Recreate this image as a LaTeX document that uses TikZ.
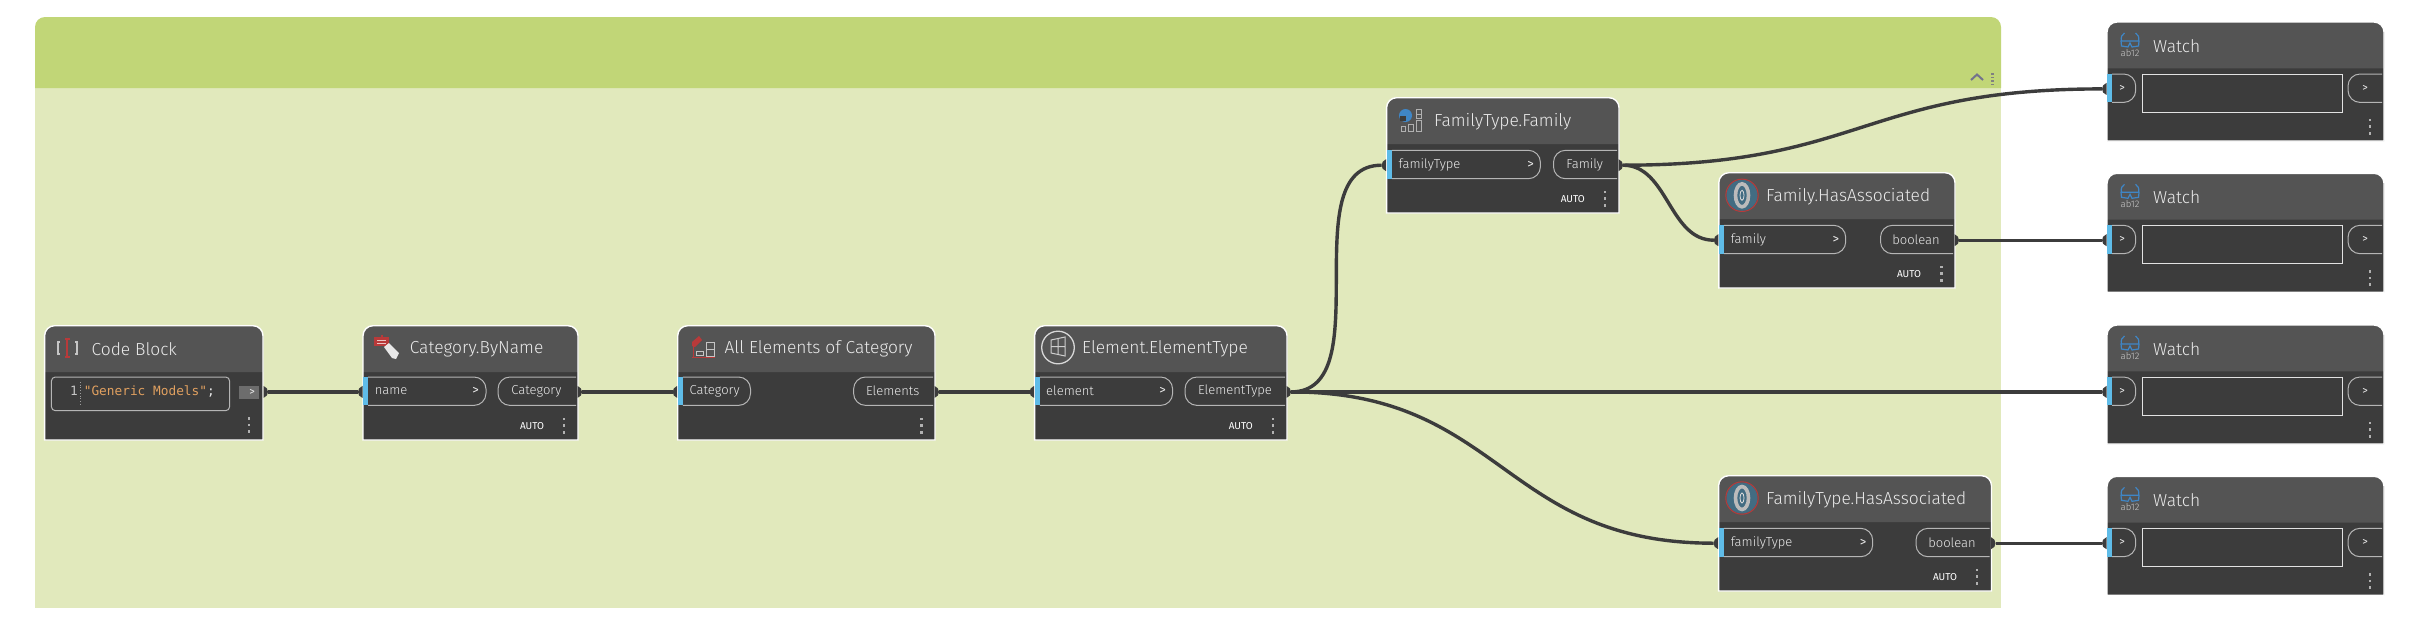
\documentclass[tikz,border=0pt]{standalone}
\usepackage{fontspec}
\setmainfont{Fira Sans Light}
\setmonofont{DejaVu Sans Mono}
\newfontfamily\regfont{Fira Sans}
\definecolor{grpbody}{HTML}{E1E9BC}
\definecolor{grphead}{HTML}{C1D677}
\definecolor{nodehead}{HTML}{545454}
\definecolor{nodebody}{HTML}{3C3C3C}
\definecolor{wire}{HTML}{3C3C3C}
\definecolor{portblue}{HTML}{5FBCE8}
\definecolor{txt}{HTML}{EAEAEA}
\definecolor{codeorange}{HTML}{E0A060}
\definecolor{iconred}{HTML}{B83A3A}
\definecolor{iconblue}{HTML}{3F86C6}
\definecolor{assocblue}{HTML}{426C82}
\tikzset{
  x=1pt,y=-1pt,
  wirelink/.style={draw=wire,line width=3.4pt},
  titletext/.style={anchor=west,inner sep=0pt,text=txt,font=\fontsize{17.4}{20}\selectfont},
  porttext/.style={inner sep=0pt,text=txt,font=\fontsize{13}{14}\selectfont},
  chevtext/.style={inner sep=0pt,text=txt,font=\regfont\fontsize{13}{14}\selectfont},
  smalltext/.style={inner sep=0pt,text=txt,font=\regfont\fontsize{11}{12}\selectfont},
  autotext/.style={inner sep=0pt,text=white,font=\regfont\fontsize{10}{12}\selectfont},
  pill/.style={draw=white!62!nodebody,line width=1pt},
  dotmark/.style={fill=white!60!nodebody},
}
% \dynbody{name}{x1}{y1}{x2}{y2}{border}: a node card; header 46.3 high
\newcommand{\dynbody}[6]{%
  \path[fill=nodebody] (#2,#5) -- (#2,#3+10) arc[start angle=180,end angle=90,radius=10pt] -- (#4-10,#3)
     arc[start angle=90,end angle=0,radius=10pt] -- (#4,#5) -- cycle;
  \path[fill=nodehead] (#2,#3+46.3) -- (#2,#3+10) arc[start angle=180,end angle=90,radius=10pt] -- (#4-10,#3)
     arc[start angle=90,end angle=0,radius=10pt] -- (#4,#3+46.3) -- cycle;
  \draw[#6,line width=1.4pt] (#2,#5) -- (#2,#3+10) arc[start angle=180,end angle=90,radius=10pt] -- (#4-10,#3)
     arc[start angle=90,end angle=0,radius=10pt] -- (#4,#5) -- cycle;
  \coordinate (#1) at (#2,#3);
}
\newcommand{\inpill}[4]{%
  \fill[portblue] (#2,#4) rectangle (#2+5.2,#4+28.4);
  \draw[pill] (#2+5.2,#4) -- (#3-12,#4) arc[start angle=90,end angle=0,radius=12pt] -- (#3,#4+16.4)
     arc[start angle=0,end angle=-90,radius=12pt] -- (#2+5.2,#4+28.4);
  \coordinate (#1) at (#2-5,#4+14.9);
  \fill[wire] (#2-0.5,#4+8.9) .. controls (#2-6.5,#4+11) and (#2-6.5,#4+19) .. (#2-0.5,#4+20.9) -- cycle;
}
\newcommand{\outshape}[3]{%
  \draw[pill] (#2-1,#3) -- (#1+12,#3) arc[start angle=90,end angle=180,radius=12pt] -- (#1,#3+16.4)
     arc[start angle=180,end angle=270,radius=12pt] -- (#2-1,#3+28.4);
}
\newcommand{\outpill}[4]{%
  \outshape{#2}{#3}{#4}
  \coordinate (#1) at (#3+5,#4+14.9);
  \fill[wire] (#3+.5,#4+8.9) .. controls (#3+6.5,#4+11) and (#3+6.5,#4+19) .. (#3+.5,#4+20.9) -- cycle;
}
\newcommand{\threedots}[2]{%
  \foreach \d in {-6.7,0,6.7} \fill[dotmark] (#1-1.4,#2+\d-1.4) rectangle (#1+1.4,#2+\d+1.4);
}
\newcommand{\associcon}[2]{%
  \begin{scope}[shift={(#1,#2)}]
    \fill[assocblue] (0,0) circle[radius=15.5];
    \draw[iconred,line width=1pt] (0,0) circle[radius=16.2];
    \draw[white!65!nodebody,line width=3.6pt] (0,0) ellipse[x radius=6.5,y radius=11.5];
    \draw[white!80!nodebody,line width=.8pt] (0,0) ellipse[x radius=2,y radius=5];
  \end{scope}
}
\newcommand{\watchicon}[3]{%
  \begin{scope}[shift={(#1,#2)}]
    \draw[iconblue,line width=1.2pt] (1,8) .. controls (0,4) and (1.5,1.5) .. (4,0)
       (18,8) .. controls (19,4) and (17.5,1.5) .. (15,0)
       (0.5,8) -- (1,13) -- (7.5,14) -- (9.5,10) -- (11.5,14) -- (18,13) -- (18.5,8) -- cycle;
    \node[inner sep=0pt,text=white!75!nodebody,font=\fontsize{9.5}{11}\selectfont] (#3) at (9.5,20) {ab12};
  \end{scope}
}
\newcommand{\watchnode}[2]{%
  \dynbody{#1}{2107}{#2}{2384}{#2+119}{white}
  \watchicon{2120.5}{#2+11}{#1ab}
  \node[titletext] (#1title) at (2153,#2+24) {Watch};
  \inpill{#1in}{2107}{2135.7}{#2+52}
  \outshape{2348}{2383}{#2+52}
  \node[draw=white!85!nodebody,line width=1pt,minimum width=200pt,minimum height=37.7pt,inner sep=0pt,anchor=north west] (#1box) at (2142,#2+52) {};
  \node[smalltext] (#1gta) at (2122,#2+66) {>};
  \node[smalltext] (#1gtb) at (2365,#2+66) {>};
  \threedots{2370}{#2+104.7}
}
\begin{document}
\begin{tikzpicture}
\useasboundingbox (0,0) rectangle (2428,638);
\fill[white] (0,0) rectangle (2428,638);
% group
\fill[grpbody] (35,88) rectangle (2001,608);
\fill[grphead] (35,88) -- (35,27) arc[start angle=180,end angle=90,radius=10pt] -- (1991,17) arc[start angle=90,end angle=0,radius=10pt] -- (2001,88) -- cycle;
\draw[gray!90!blue,line width=2pt] (1971,80) -- (1977,74.5) -- (1983,80);
\foreach \d in {73,76.5,80,83.5} \fill[gray] (1991,\d) rectangle (1994,\d+1.8);

% ---- Code Block
\dynbody{cb}{44.6}{325.7}{263}{440}{white}
\draw[white!62!nodebody,line width=1pt,rounded corners=4pt] (51.4,377) rectangle (229.6,410.7);
\draw[white!50!nodebody,dotted,line width=.7pt] (80.7,382) -- (80.7,406);
\node[inner sep=0pt,text=white!70!nodebody,font=\ttfamily\fontsize{12.8}{14}\selectfont,anchor=east] (cbnum) at (78,391) {1};
\node[inner sep=0pt,text=codeorange,font=\ttfamily\fontsize{12.8}{14}\selectfont,anchor=west] (cbcode) at (83.6,391) {"Generic Models"\textcolor{txt}{;}};
\fill[white!25!nodebody] (239,386) rectangle (258.6,398.7);
\node[smalltext] (cbgt) at (252,392) {>};
\node[titletext] (cbtitle) at (91.4,349) {Code Block};
\draw[white!70!nodebody,line width=1.2pt] (60,342) -- (58,342) -- (58,354) -- (60,354) (75,342) -- (77,342) -- (77,354) -- (75,354);
\draw[iconred,line width=1.4pt] (64.5,339) -- (69.5,339) (67,339) -- (67,357) (64.5,357) -- (69.5,357);
\threedots{249}{425}
\coordinate (cbout) at (268,391.9);
\fill[wire] (263.5,385.9) .. controls (269.5,387.9) and (269.5,395.9) .. (263.5,397.9) -- cycle;

% ---- Category.ByName
\dynbody{cbn}{363}{325.7}{578}{440}{white}
\fill[iconred] (374,337) rectangle (389,346);
\fill[iconred] (381,334.5) rectangle (383,337);
\draw[white!70!iconred,line width=.6pt] (377,340) -- (386,340) (377,343) -- (386,343);
\fill[white!88!nodebody] (384,347) -- (389,343) -- (399,353) -- (396,359) -- (392,358) -- cycle;
\node[titletext] (cbntitle) at (409.6,349) {Category.ByName};
\inpill{cbnin}{363}{486}{377}
\outpill{cbnout}{498}{577}{377}
\node[porttext,anchor=west] (cbnname) at (374.6,391) {name};
\node[chevtext] (cbngt) at (475.7,391) {>};
\node[porttext] (cbncat) at (536.4,391) {Category};
\node[autotext] (cbnauto) at (532,425.7) {AUTO};
\threedots{564}{425.7}

% ---- All Elements of Category
\dynbody{all}{677.7}{325.7}{935}{440}{white}
\fill[iconred] (692,342) -- (692,346) -- (695,347) -- (702,340) -- (699,336) -- cycle;
\draw[iconred,line width=.9pt] (692,357) -- (715,357) (693.5,346) -- (693.5,357);
\draw[white!70!nodebody,line width=1pt] (706,342.5) rectangle (714,356) (706,349) -- (714,349);
\draw[white!70!nodebody,line width=1pt] (696.5,351.5) rectangle (703,355.5);
\node[titletext] (alltitle) at (724.4,349) {All Elements of Category};
\inpill{allin}{677.7}{750.5}{377}
\outpill{allout}{853.6}{934}{377}
\node[porttext,anchor=west] (allcat) at (689.5,391) {Category};
\node[porttext] (allel) at (892.7,391) {Elements};
\threedots{921.4}{425.7}

% ---- Element.ElementType
\dynbody{el}{1034.6}{325.7}{1287}{440}{white}
\draw[white!80!nodebody,line width=1.3pt] (1058,347.5) circle[radius=16.3];
\draw[white!75!nodebody,line width=1pt] (1051,340) -- (1065,337) -- (1065,356) -- (1051,353) -- cycle (1051,346.5) -- (1065,346.5) (1058,338.5) -- (1058,354.5);
\node[titletext] (eltitle) at (1082,349) {Element.ElementType};
\inpill{elin}{1034.6}{1172.6}{377}
\outpill{elout}{1185}{1286}{377}
\node[porttext,anchor=west] (elname) at (1046,391) {element};
\node[chevtext] (elgt) at (1162.5,391) {>};
\node[porttext] (elet) at (1235,391) {ElementType};
\node[autotext] (elauto) at (1240.8,425.7) {AUTO};
\threedots{1273}{425.7}

% ---- FamilyType.Family
\dynbody{ft}{1386.6}{97.7}{1619}{213}{white}
\fill[iconblue] (1405.5,115.5) circle[radius=6.5];
\fill[nodebody] (1405.5,115.5) rectangle (1400,121);
\draw[white!60!nodebody,line width=.9pt] (1416,109.5) rectangle (1421,118) (1416,114) -- (1421,114);
\draw[white!60!nodebody,line width=.9pt] (1401,126) rectangle (1405,131) (1408,124) rectangle (1413,131) (1416,120.5) rectangle (1421,131);
\node[titletext] (fttitle) at (1434,122) {FamilyType.Family};
\inpill{ftin}{1386.6}{1540.4}{150.3}
\outpill{ftout}{1553.5}{1618}{150.3}
\node[porttext,anchor=west] (ftname) at (1398.5,164.5) {familyType};
\node[chevtext] (ftgt) at (1530.5,164.5) {>};
\node[porttext] (ftfam) at (1584.7,164.5) {Family};
\node[autotext] (ftauto) at (1572.8,198.7) {AUTO};
\threedots{1605}{198.7}

% ---- Family.HasAssociated
\dynbody{fh}{1718.8}{172.7}{1955}{288}{white}
\associcon{1742}{195.3}
\node[titletext] (fhtitle) at (1766,197) {Family.HasAssociated};
\inpill{fhin}{1718.8}{1845.7}{225.3}
\outpill{fhout}{1880.5}{1954}{225.3}
\node[porttext,anchor=west] (fhname) at (1730.6,239.5) {family};
\node[chevtext] (fhgt) at (1835.8,239.5) {>};
\node[porttext] (fhbool) at (1916,239.5) {boolean};
\node[autotext] (fhauto) at (1909,273.7) {AUTO};
\threedots{1941.4}{273.7}

% ---- FamilyType.HasAssociated
\dynbody{fth}{1718.6}{475.7}{1991.5}{591}{white}
\associcon{1742}{498}
\node[titletext] (fthtitle) at (1766,500) {FamilyType.HasAssociated};
\inpill{fthin}{1718.6}{1872.7}{528.3}
\outpill{fthout}{1916}{1990.5}{528.3}
\node[porttext,anchor=west] (fthname) at (1730.6,542.5) {familyType};
\node[chevtext] (fthgt) at (1863,542.5) {>};
\node[porttext] (fthbool) at (1952,542.5) {boolean};
\node[autotext] (fthauto) at (1945,576.7) {AUTO};
\threedots{1977}{576.7}

% ---- Watches
\watchnode{wa}{22}
\watchnode{wb}{173.3}
\watchnode{wc}{325}
\watchnode{wd}{476.3}

% ---- connectors
\draw[wirelink] (cbout) -- (cbnin);
\draw[wirelink] (cbnout) -- (allin);
\draw[wirelink] (allout) -- (elin);
\draw[wirelink] (elout) -- (wcin);
\draw[wirelink] (fhout) -- (wbin);
\draw[wirelink] (fthout) -- (wdin);
\draw[wirelink] (elout) .. controls +(90,0) and ([xshift=-90pt]ftin) .. (ftin);
\draw[wirelink] (elout) .. controls +(211,0) and ([xshift=-211pt]fthin) .. (fthin);
\draw[wirelink] (ftout) .. controls +(239,0) and ([xshift=-239pt]wain) .. (wain);
\draw[wirelink] (ftout) .. controls +(45,0) and ([xshift=-45pt]fhin) .. (fhin);
\end{tikzpicture}
\end{document}
